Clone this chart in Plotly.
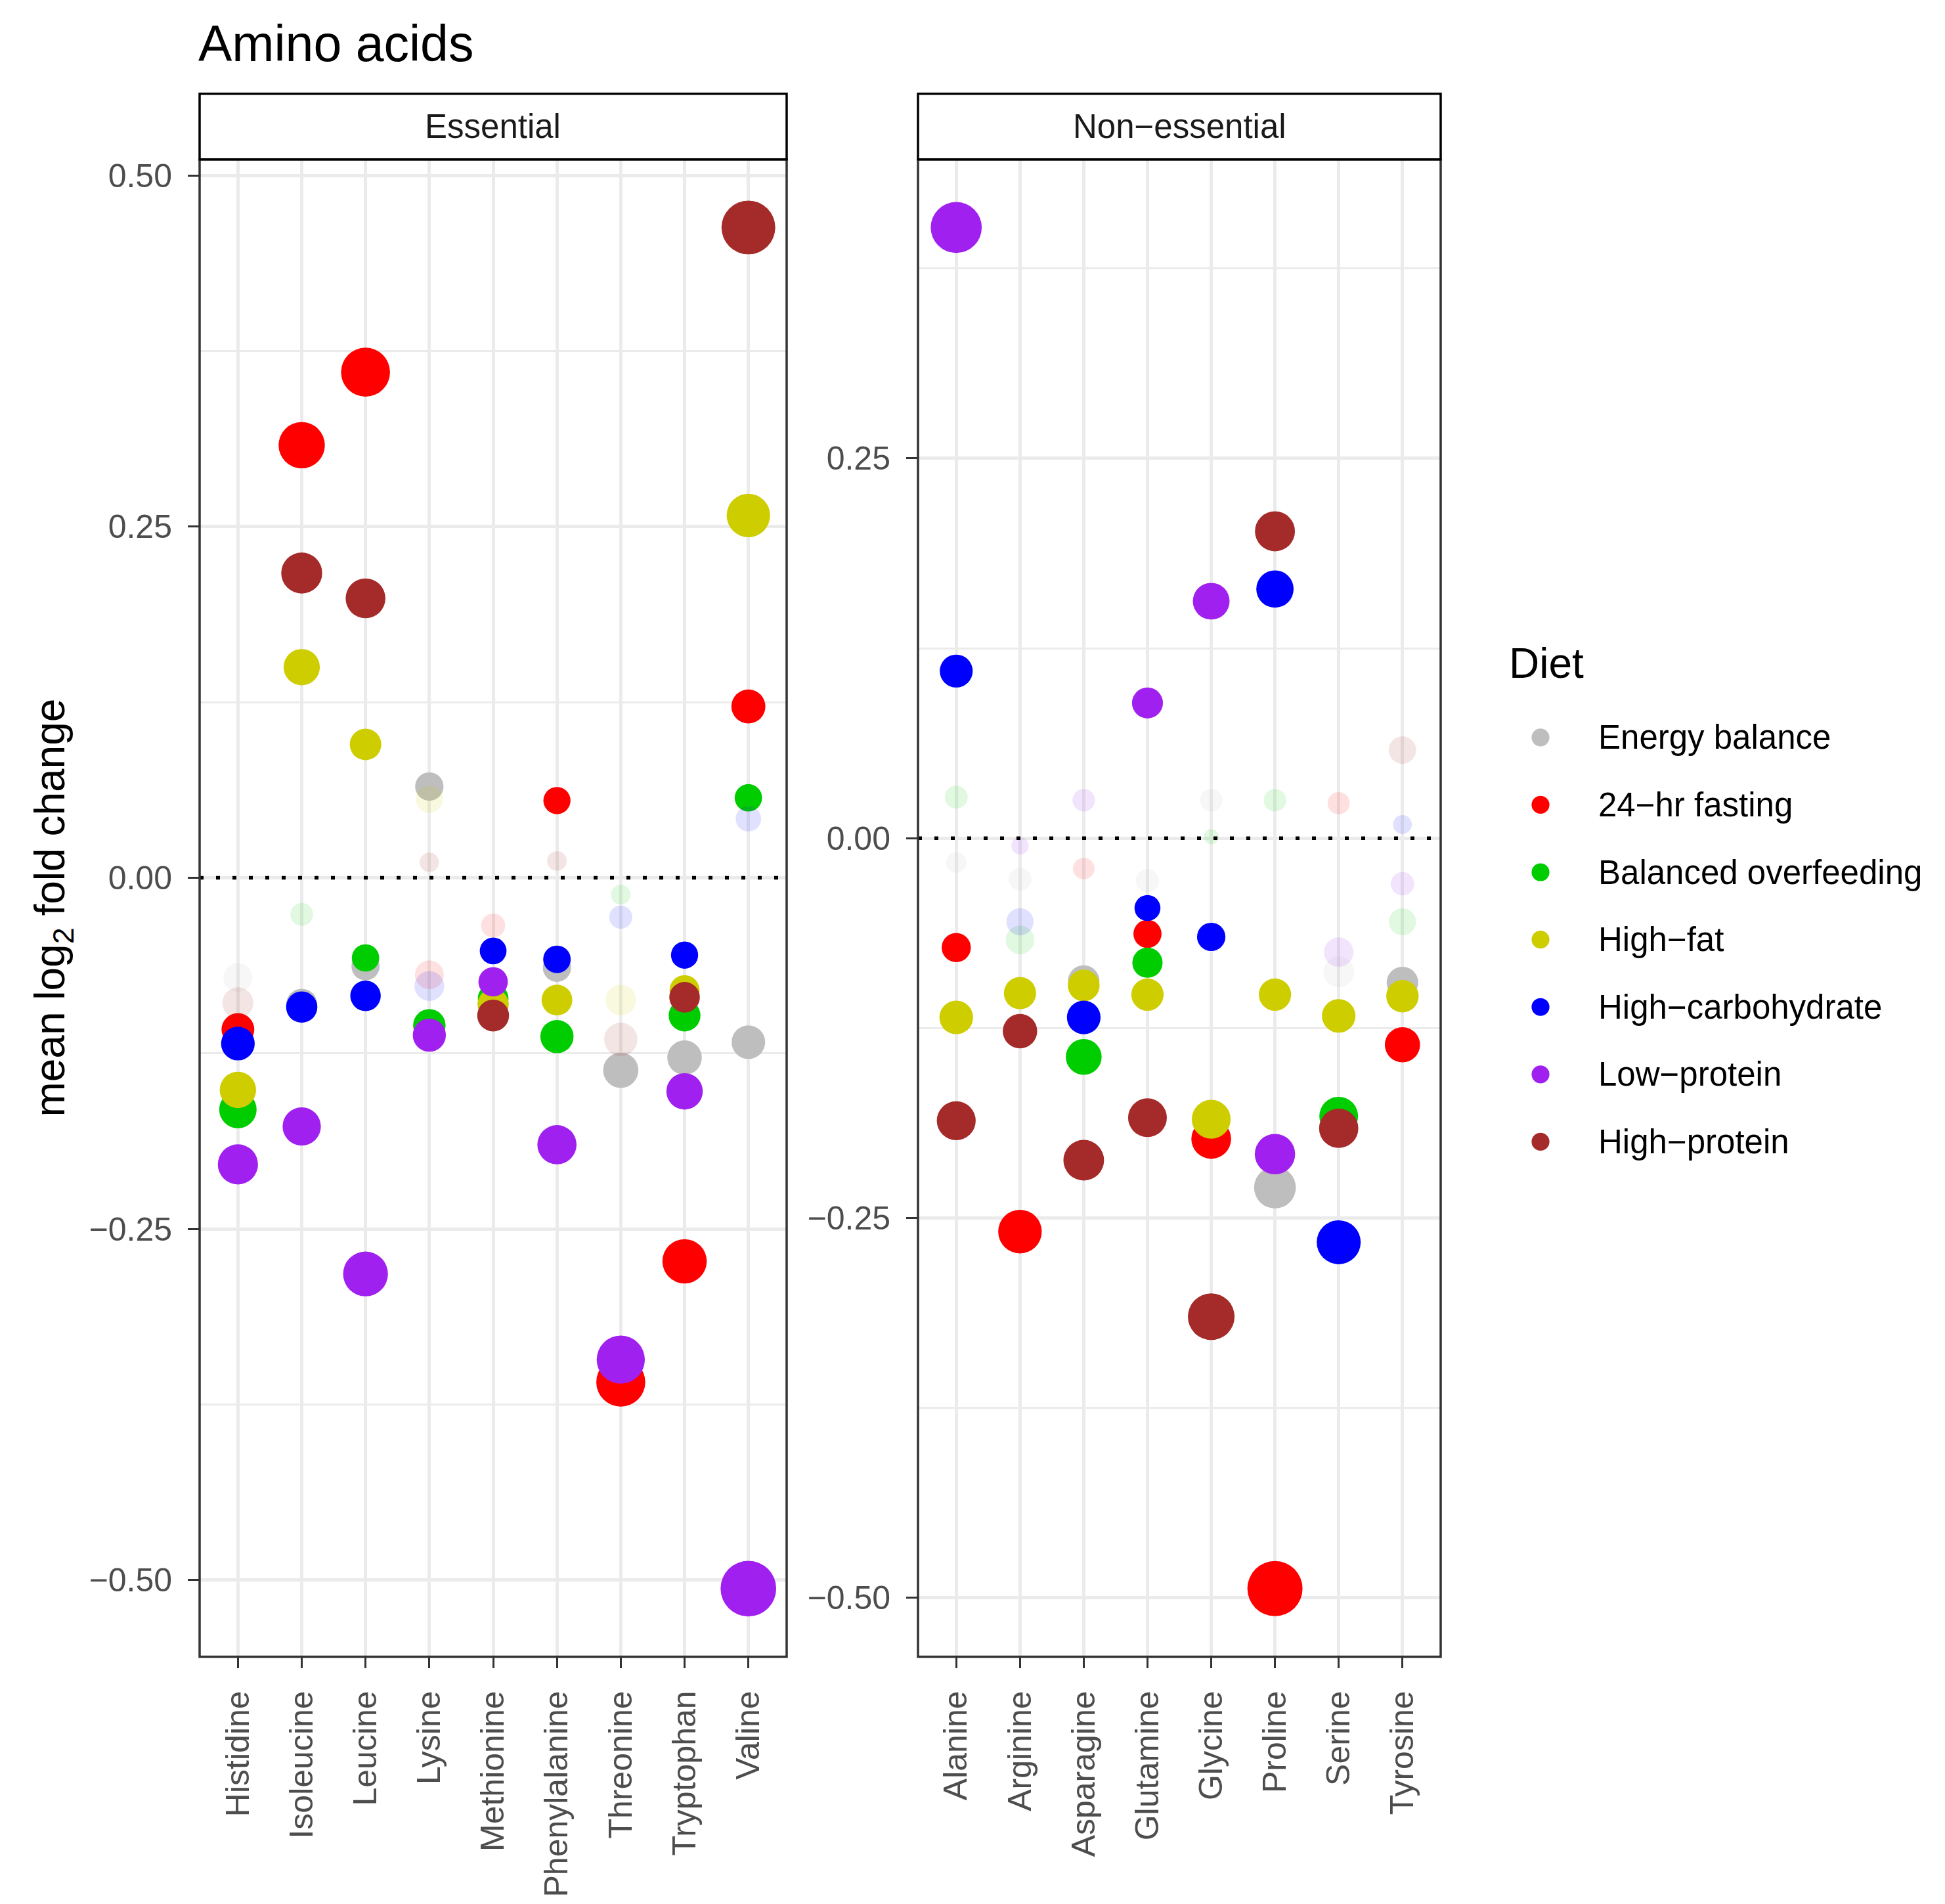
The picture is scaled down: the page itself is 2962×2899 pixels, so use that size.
import math
import plotly.graph_objects as go

W, H = 2962, 2899

# ---------------- data ----------------
essential = ["Histidine", "Isoleucine", "Leucine", "Lysine", "Methionine",
             "Phenylalanine", "Threonine", "Tryptophan", "Valine"]
nonessential = ["Alanine", "Arginine", "Asparagine", "Glutamine", "Glycine",
                "Proline", "Serine", "Tyrosine"]

diets = ["Energy balance", "24\u2212hr fasting", "Balanced overfeeding", "High\u2212fat",
         "High\u2212carbohydrate", "Low\u2212protein", "High\u2212protein"]
diet_colors = ["#BEBEBE", "#FF0000", "#00CD00", "#CDCD00", "#0000FF", "#A020F0", "#A52A2A"]

# mean log2 fold change, essential amino acids (order = essential)
ess_energy_balance = [-0.071, -0.090, -0.063, 0.065, -0.090, -0.064, -0.137, -0.128, -0.117]
ess_fasting        = [-0.108, 0.308, 0.360, -0.069, -0.034, 0.055, -0.359, -0.273, 0.122]
ess_overfeeding    = [-0.165, -0.026, -0.057, -0.105, -0.086, -0.113, -0.012, -0.098, 0.057]
ess_high_fat       = [-0.151, 0.150, 0.095, 0.056, -0.090, -0.087, -0.087, -0.080, 0.258]
ess_high_carb      = [-0.118, -0.092, -0.084, -0.077, -0.052, -0.058, -0.028, -0.055, 0.042]
ess_low_protein    = [-0.204, -0.177, -0.282, -0.112, -0.074, -0.190, -0.343, -0.152, -0.506]
ess_high_protein   = [-0.089, 0.217, 0.199, 0.011, -0.098, 0.012, -0.115, -0.085, 0.463]

# significance flags (1 = significant, 0 = not)
ess_sig_energy_balance = [0, 1, 1, 1, 1, 1, 1, 1, 1]
ess_sig_fasting        = [1, 1, 1, 0, 0, 1, 1, 1, 1]
ess_sig_overfeeding    = [1, 0, 1, 1, 1, 1, 0, 1, 1]
ess_sig_high_fat       = [1, 1, 1, 0, 1, 1, 0, 1, 1]
ess_sig_high_carb      = [1, 1, 1, 0, 1, 1, 0, 1, 0]
ess_sig_low_protein    = [1, 1, 1, 1, 1, 1, 1, 1, 1]
ess_sig_high_protein   = [0, 1, 1, 0, 1, 0, 0, 1, 1]

# non-essential amino acids (order = nonessential)
non_energy_balance = [-0.016, -0.027, -0.094, -0.028, 0.025, -0.230, -0.088, -0.095]
non_fasting        = [-0.072, -0.259, -0.020, -0.063, -0.198, -0.494, 0.023, -0.136]
non_overfeeding    = [0.027, -0.067, -0.144, -0.082, 0.001, 0.025, -0.183, -0.055]
non_high_fat       = [-0.118, -0.102, -0.097, -0.103, -0.185, -0.103, -0.117, -0.104]
non_high_carb      = [0.110, -0.055, -0.118, -0.046, -0.065, 0.164, -0.266, 0.009]
non_low_protein    = [0.402, -0.005, 0.025, 0.089, 0.156, -0.208, -0.075, -0.030]
non_high_protein   = [-0.186, -0.127, -0.212, -0.184, -0.315, 0.202, -0.191, 0.058]

non_sig_energy_balance = [0, 0, 1, 0, 0, 1, 0, 1]
non_sig_fasting        = [1, 1, 0, 1, 1, 1, 0, 1]
non_sig_overfeeding    = [0, 0, 1, 1, 0, 0, 1, 0]
non_sig_high_fat       = [1, 1, 1, 1, 1, 1, 1, 1]
non_sig_high_carb      = [1, 0, 1, 1, 1, 1, 1, 0]
non_sig_low_protein    = [1, 0, 0, 1, 1, 1, 0, 0]
non_sig_high_protein   = [1, 1, 1, 1, 1, 1, 1, 0]

ess_values = [ess_energy_balance, ess_fasting, ess_overfeeding, ess_high_fat,
              ess_high_carb, ess_low_protein, ess_high_protein]
ess_sigs = [ess_sig_energy_balance, ess_sig_fasting, ess_sig_overfeeding, ess_sig_high_fat,
            ess_sig_high_carb, ess_sig_low_protein, ess_sig_high_protein]
non_values = [non_energy_balance, non_fasting, non_overfeeding, non_high_fat,
              non_high_carb, non_low_protein, non_high_protein]
non_sigs = [non_sig_energy_balance, non_sig_fasting, non_sig_overfeeding, non_sig_high_fat,
            non_sig_high_carb, non_sig_low_protein, non_sig_high_protein]

# ---------------- styling helpers ----------------
FONT = "Liberation Sans, Arial, Helvetica, sans-serif"
FAINT_ALPHA = 0.12


def rgba(hex_col, a):
    h = hex_col.lstrip("#")
    r, g, b = int(h[0:2], 16), int(h[2:4], 16), int(h[4:6], 16)
    return f"rgba({r},{g},{b},{a})"


def point_size(v):
    return 20 + 91 * math.sqrt(abs(v))


def px_x(p):
    return p / W


def px_y(p):
    return 1 - p / H


fig = go.Figure()

panels = [
    (essential, ess_values, ess_sigs, "x", "y"),
    (nonessential, non_values, non_sigs, "x2", "y2"),
]

for cats, values, sigs, xa, ya in panels:
    for d, diet in enumerate(diets):
        vals = values[d]
        sg = sigs[d]
        fig.add_trace(go.Scatter(
            x=cats, y=vals, mode="markers", name=diet, showlegend=False,
            xaxis=xa, yaxis=ya,
            marker=dict(
                color=[rgba(diet_colors[d], 1 if s else FAINT_ALPHA) for s in sg],
                size=[point_size(v) for v in vals],
                opacity=1,
                line=dict(width=0),
            ),
            hoverinfo="x+y+name",
        ))


def yrange(values):
    flat = [v for row in values for v in row]
    lo, hi = min(flat), max(flat)
    pad = 0.05 * (hi - lo)
    return [lo - pad, hi + pad]


# panel pixel geometry
L1, R1 = 304, 1198
L2, R2 = 1398, 2194
TOP, BOT = 240, 2522
STRIP_TOP = 140

tickfont = dict(family=FONT, size=50, color="#4D4D4D")

common_x = dict(
    type="category", showgrid=True, gridcolor="#EBEBEB", gridwidth=5,
    ticks="outside", ticklen=17, tickwidth=3.3, tickcolor="#333333",
    tickangle=-90, tickfont=tickfont, showline=False, zeroline=False,
    ticklabelstandoff=14, fixedrange=True,
)
common_y = dict(
    showgrid=True, gridcolor="#EBEBEB", gridwidth=5,
    tick0=0, dtick=0.25, tickformat=".2f",
    minor=dict(dtick=0.125, tick0=0, showgrid=True, gridcolor="#EBEBEB", gridwidth=2.7),
    ticks="outside", ticklen=17, tickwidth=3.3, tickcolor="#333333",
    tickfont=tickfont, showline=False, zeroline=False,
    ticklabelstandoff=14, fixedrange=True,
)

fig.update_layout(
    width=W, height=H,
    margin=dict(l=0, r=0, t=0, b=0),
    paper_bgcolor="white", plot_bgcolor="white",
    font=dict(family=FONT, color="black"),
    showlegend=False,
    xaxis=dict(common_x, domain=[px_x(L1), px_x(R1)], range=[-0.6, len(essential) - 0.4],
               anchor="y", categoryorder="array", categoryarray=essential),
    xaxis2=dict(common_x, domain=[px_x(L2), px_x(R2)], range=[-0.6, len(nonessential) - 0.4],
                anchor="y2", categoryorder="array", categoryarray=nonessential),
    yaxis=dict(common_y, domain=[px_y(BOT), px_y(TOP)], range=yrange(ess_values), anchor="x"),
    yaxis2=dict(common_y, domain=[px_y(BOT), px_y(TOP)], range=yrange(non_values), anchor="x2"),
)

shapes = []
annotations = []

for xa, ya, L, R, label in [("x", "y", L1, R1, "Essential"), ("x2", "y2", L2, R2, "Non\u2212essential")]:
    # zero reference line
    shapes.append(dict(type="line", xref=f"{xa} domain", yref=ya, x0=0, x1=1, y0=0, y1=0,
                       line=dict(color="black", width=5.5, dash="6px,19px"), layer="above"))
    # panel border
    shapes.append(dict(type="rect", xref=f"{xa} domain", yref=f"{ya} domain", x0=0, x1=1, y0=0, y1=1,
                       line=dict(color="#333333", width=3.5), fillcolor="rgba(0,0,0,0)", layer="above"))
    # strip
    shapes.append(dict(type="rect", xref="paper", yref="paper",
                       x0=px_x(L), x1=px_x(R), y0=px_y(TOP), y1=px_y(STRIP_TOP),
                       line=dict(color="black", width=3.5), fillcolor="white", layer="above"))
    annotations.append(dict(text=label, xref="paper", yref="paper",
                            x=px_x((L + R) / 2), y=px_y((STRIP_TOP + TOP) / 2),
                            xanchor="center", yanchor="middle", showarrow=False,
                            font=dict(family=FONT, size=51, color="#1A1A1A")))

# title
annotations.append(dict(text="Amino acids", xref="paper", yref="paper",
                        x=px_x(300), y=px_y(63), xanchor="left", yanchor="middle",
                        showarrow=False, font=dict(family=FONT, size=77, color="black")))
# y-axis title
annotations.append(dict(text="mean log<sub>2</sub> fold change", xref="paper", yref="paper",
                        x=px_x(80), y=px_y((TOP + BOT) / 2), xanchor="center", yanchor="middle",
                        textangle=-90, showarrow=False,
                        font=dict(family=FONT, size=64, color="black")))

# legend (drawn manually)
annotations.append(dict(text="Diet", xref="paper", yref="paper",
                        x=px_x(2296), y=px_y(1008), xanchor="left", yanchor="middle",
                        showarrow=False, font=dict(family=FONT, size=64, color="black")))
LEG_Y0, LEG_DY, LEG_MX, LEG_TX, LEG_R = 1121, 102.7, 2346, 2432, 13.6
for i, diet in enumerate(diets):
    cy = LEG_Y0 + i * LEG_DY
    shapes.append(dict(type="circle", xref="paper", yref="paper",
                       x0=px_x(LEG_MX - LEG_R), x1=px_x(LEG_MX + LEG_R),
                       y0=px_y(cy + LEG_R), y1=px_y(cy - LEG_R),
                       fillcolor=diet_colors[i], line=dict(width=0), layer="above"))
    annotations.append(dict(text=diet, xref="paper", yref="paper",
                            x=px_x(LEG_TX), y=px_y(cy), xanchor="left", yanchor="middle",
                            showarrow=False, font=dict(family=FONT, size=51, color="black")))

fig.update_layout(shapes=shapes, annotations=annotations)

fig.write_html("out.html")
